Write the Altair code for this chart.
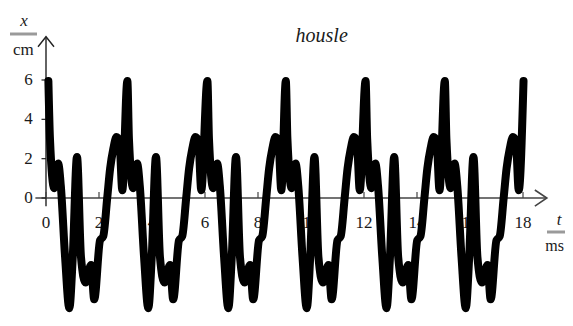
import altair as alt
import pandas as pd

# ---- data ----
# times (ms) of the big 6 cm spikes
PEAKS = [0.09, 3.07, 6.09, 9.05, 12.06, 15.05, 18.02]
# one period of the waveform: offset after each spike (ms) and displacement (cm)
PHASE = [0.00, 0.06, 0.22, 0.37, 0.47, 0.63, 0.79, 0.92, 1.08, 1.23, 1.40,
         1.61, 1.73, 1.95, 2.07, 2.22, 2.33, 2.45, 2.57, 2.68, 2.79]
SHAPE = [5.95, 3.0, 0.5, 1.75, 0.6, -3.0, -5.6, -3.0, 2.09, -3.0, -4.3,
         -3.4, -5.15, -2.15, -1.95, 0.0, 1.5, 2.5, 3.1, 2.9, 0.4]

X_TICKS = [0, 2, 4, 6, 8, 10, 12, 14, 16, 18]
Y_TICKS = [0, 2, 4, 6]
TITLE = "housle"

# ---- build table ----
t_vals, x_vals = [], []
for p in PEAKS[:-1]:
    for ph, v in zip(PHASE, SHAPE):
        t_vals.append(round(p + ph, 3))
        x_vals.append(v)
t_vals.append(PEAKS[-1])
x_vals.append(SHAPE[0])
wave = pd.DataFrame({"t": t_vals, "x": x_vals})

xs = alt.Scale(domain=[-1.434, 19.585], nice=False, zero=False)
ys = alt.Scale(domain=[-6.10, 9.66], nice=False, zero=False)

one = pd.DataFrame({"a": [0]})
xt = pd.DataFrame({"v": X_TICKS, "lab": [str(v) for v in X_TICKS]})
yt = pd.DataFrame({"v": Y_TICKS, "lab": [str(v) for v in Y_TICKS]})

FONT = "'Liberation Serif', 'Times New Roman', 'DejaVu Serif', serif"
AX = "#444444"
TXT = "#1a1a1a"

x_axis = alt.Chart(one).mark_rule(color=AX, strokeWidth=1.6).encode(
    x=alt.XDatum(-0.4, scale=xs, axis=None), x2=alt.X2Datum(18.9),
    y=alt.YDatum(0, scale=ys, axis=None))
y_axis = alt.Chart(one).mark_rule(color="#222222", strokeWidth=1.4).encode(
    x=alt.XDatum(0, scale=xs, axis=None),
    y=alt.YDatum(-0.42, scale=ys, axis=None), y2=alt.Y2Datum(8.2))

x_arrow = alt.Chart(one).mark_point(
    shape="M-1,-0.67L0,0L-1,0.67", size=576, filled=False,
    stroke=AX, strokeWidth=1.6, opacity=1).encode(
    x=alt.XDatum(18.9, scale=xs, axis=None), y=alt.YDatum(0, scale=ys, axis=None))
y_arrow = alt.Chart(one).mark_point(
    shape="M-0.8,1L0,0L0.8,1", size=400, filled=False,
    stroke="#222222", strokeWidth=1.4, opacity=1).encode(
    x=alt.XDatum(0, scale=xs, axis=None), y=alt.YDatum(8.2, scale=ys, axis=None))

x_tick = alt.Chart(xt).mark_rule(color=AX, strokeWidth=1.2).encode(
    x=alt.X("v:Q", scale=xs, axis=None),
    y=alt.YDatum(0, scale=ys, axis=None), y2=alt.Y2Datum(0.3))
y_tick = alt.Chart(yt).mark_rule(color="#222222", strokeWidth=1.2).encode(
    y=alt.Y("v:Q", scale=ys, axis=None),
    x=alt.XDatum(-0.17, scale=xs, axis=None), x2=alt.X2Datum(0))

x_lab = alt.Chart(xt).mark_text(font=FONT, fontSize=17, color=TXT,
                                baseline="middle", align="center").encode(
    x=alt.X("v:Q", scale=xs, axis=None),
    y=alt.YDatum(-1.27, scale=ys, axis=None), text="lab:N")
y_lab = alt.Chart(yt).mark_text(font=FONT, fontSize=17, color=TXT,
                                baseline="middle", align="right").encode(
    y=alt.Y("v:Q", scale=ys, axis=None),
    x=alt.XDatum(-0.5, scale=xs, axis=None), text="lab:N")

title = alt.Chart(one).mark_text(font=FONT, fontSize=20, fontStyle="italic",
                                 color=TXT, baseline="middle", align="center").encode(
    x=alt.value(313.7), y=alt.value(27.5), text=alt.value(TITLE))

ylab_top = alt.Chart(one).mark_text(font=FONT, fontSize=17, fontStyle="italic",
                                    color=TXT, baseline="middle", align="center").encode(
    x=alt.value(16), y=alt.value(13), text=alt.value("x"))
ylab_line = alt.Chart(one).mark_rule(color="#9a9a9a", strokeWidth=3).encode(
    x=alt.value(2), x2=alt.value(29), y=alt.value(26))
ylab_bot = alt.Chart(one).mark_text(font=FONT, fontSize=17, color=TXT,
                                    baseline="middle", align="center").encode(
    x=alt.value(15.3), y=alt.value(42), text=alt.value("cm"))

xlab_top = alt.Chart(one).mark_text(font=FONT, fontSize=17, fontStyle="italic",
                                    color=TXT, baseline="middle", align="center").encode(
    x=alt.value(551), y=alt.value(212), text=alt.value("t"))
xlab_line = alt.Chart(one).mark_rule(color="#9a9a9a", strokeWidth=3).encode(
    x=alt.value(539), x2=alt.value(566), y=alt.value(224))
xlab_bot = alt.Chart(one).mark_text(font=FONT, fontSize=16, color=TXT,
                                    baseline="middle", align="right").encode(
    x=alt.value(556), y=alt.value(238), text=alt.value("ms"))

line = alt.Chart(wave).mark_line(
    color="black", strokeWidth=8, interpolate="monotone",
    strokeCap="round", strokeJoin="round").encode(
    x=alt.X("t:Q", scale=xs, axis=None),
    y=alt.Y("x:Q", scale=ys, axis=None),
    order="t:Q")

chart = alt.layer(
    x_axis, y_axis, x_arrow, y_arrow, x_tick, y_tick, x_lab, y_lab,
    title, ylab_top, ylab_line, ylab_bot, xlab_top, xlab_line, xlab_bot,
    line,
).properties(
    width=557, height=310, padding=0,
    autosize=alt.AutoSizeParams(type="none"),
    background="white",
).configure_view(stroke=None)

chart.save("out.html", embed_options={"renderer": "svg", "actions": False})
